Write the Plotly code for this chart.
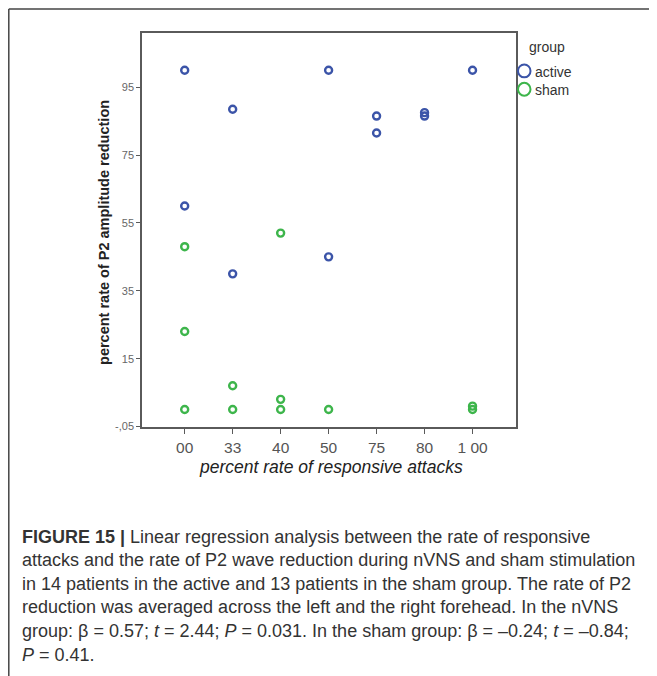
import plotly.graph_objects as go

# ---- data ----
categories = ["00", "33", "40", "50", "75", "80", "1 00"]
active_x = ["00", "00", "33", "33", "50", "50", "75", "75", "80", "80", "1 00"]
active_y = [100, 60, 88.5, 40, 100, 45, 86.5, 81.5, 87.5, 86.5, 100]
sham_x = ["00", "00", "00", "33", "33", "40", "40", "40", "50", "1 00", "1 00"]
sham_y = [48, 23, 0, 7, 0, 52, 3, 0, 0, 1, 0]
y_tickvals = [-5, 15, 35, 55, 75, 95]
y_ticktext = ["-,05", "15", "35", "55", "75", "95"]
legend_labels = ["active", "sham"]

BLUE = "#3b54a8"
GREEN = "#3db54b"
FONT = "Liberation Sans, Arial, sans-serif"
OFF = 8  # page body margin
W, H = 657 - OFF, 676 - OFF


def px(x):
    return (x - OFF) / W


def py(y):
    return 1 - (y - OFF) / H


fig = go.Figure()
fig.add_trace(go.Scatter(
    x=active_x, y=active_y, mode="markers", name="active",
    marker=dict(symbol="circle-open", size=7, color=BLUE, line=dict(width=2.4, color=BLUE)),
    showlegend=False, cliponaxis=False))
fig.add_trace(go.Scatter(
    x=sham_x, y=sham_y, mode="markers", name="sham",
    marker=dict(symbol="circle-open", size=7, color=GREEN, line=dict(width=2.4, color=GREEN)),
    showlegend=False, cliponaxis=False))

left, right, top, bottom = 142, 515.7, 33.5, 430.3

fig.update_layout(
    width=W, height=H,
    margin=dict(l=0, r=0, t=0, b=0),
    paper_bgcolor="white", plot_bgcolor="white",
    font=dict(family=FONT, color="#333"),
    xaxis=dict(
        domain=[px(left), px(right)],
        type="category", categoryorder="array", categoryarray=categories,
        range=[-0.89, 6.9],
        showgrid=False, zeroline=False,
        showline=True, linecolor="#5a5a5a", linewidth=1.5, mirror=True,
        ticks="outside", ticklen=6, tickcolor="#5a5a5a", tickwidth=1.2,
        tickfont=dict(family=FONT, size=15.5, color="#555"),
    ),
    yaxis=dict(
        domain=[py(bottom), py(top)],
        range=[-5, 110.9],
        tickvals=y_tickvals, ticktext=y_ticktext,
        showgrid=False, zeroline=False,
        showline=True, linecolor="#5a5a5a", linewidth=1.5, mirror=True,
        ticks="outside", ticklen=4, tickcolor="#5a5a5a", tickwidth=1.2,
        tickfont=dict(family=FONT, size=11, color="#666"),
    ),
)

annotations = [
    dict(text="<i>percent rate of responsive attacks</i>", x=px(331), y=py(471), xanchor="center",
         font=dict(family=FONT, size=17.5, color="#222")),
    dict(text="<b>percent rate of P2 amplitude reduction</b>", x=px(104), y=py(235), xanchor="center",
         textangle=-90, font=dict(family=FONT, size=14.5, color="#222")),
    dict(text="group", x=px(527), y=py(47.5), xanchor="left", font=dict(family=FONT, size=14, color="#333")),
]
leg_y = [71.5, 90]
for lab, yy in zip(legend_labels, leg_y):
    annotations.append(dict(text=lab, x=px(533), y=py(yy + 1), xanchor="left",
                            font=dict(family=FONT, size=14, color="#333")))

caption = [
    "<b>FIGURE 15 |</b> Linear regression analysis between the rate of responsive",
    "attacks and the rate of P2 wave reduction during nVNS and sham stimulation",
    "in 14 patients in the active and 13 patients in the sham group. The rate of P2",
    "reduction was averaged across the left and the right forehead. In the nVNS",
    "group: β = 0.57; <i>t</i> = 2.44; <i>P</i> = 0.031. In the sham group: β = –0.24; <i>t</i> = –0.84;",
    "<i>P</i> = 0.41.",
]
cap_y0, cap_dy = 541.5, 23.8
for i, line in enumerate(caption):
    annotations.append(dict(text=line, x=px(20), y=py(cap_y0 + i * cap_dy), xanchor="left",
                            font=dict(family=FONT, size=18, color="#333")))

for a in annotations:
    a.setdefault("xref", "paper")
    a.setdefault("yref", "paper")
    a.setdefault("showarrow", False)
    a.setdefault("yanchor", "middle")
fig.update_layout(annotations=annotations)

shapes = [
    # outer figure frame (open on the right and bottom)
    dict(type="line", xref="paper", yref="paper", x0=px(8.8), x1=px(700), y0=py(9), y1=py(9),
         line=dict(color="#444", width=1.5)),
    dict(type="line", xref="paper", yref="paper", x0=px(8.8), x1=px(8.8), y0=py(9), y1=py(700),
         line=dict(color="#444", width=1.5)),
]
for col, yy in zip([BLUE, GREEN], leg_y):
    shapes.append(dict(type="circle", xref="paper", yref="paper",
                       x0=px(518), x1=px(530.5), y0=py(yy - 6.5), y1=py(yy + 6.5),
                       line=dict(color=col, width=2)))
fig.update_layout(shapes=shapes)

fig.write_html("out.html")
